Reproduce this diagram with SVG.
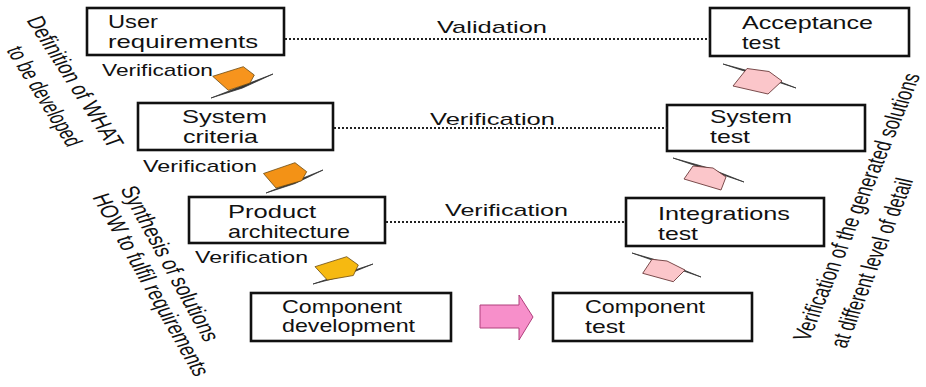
<svg xmlns="http://www.w3.org/2000/svg" width="926" height="387" viewBox="0 0 926 387">
<style>
.box{fill:#fff;stroke:#111;stroke-width:2.6}
.t{font-family:"Liberation Sans",Arial,sans-serif;font-size:19px;fill:#111}
.v{font-family:"Liberation Sans",Arial,sans-serif;font-size:17px;fill:#111}
.r{font-family:"Liberation Sans",Arial,sans-serif;font-size:18.5px;fill:#111}
.dot{stroke:#222;stroke-width:2;stroke-dasharray:2 2;fill:none}
.sliver{fill:#333;stroke:#333;stroke-width:0.8;stroke-linejoin:round}
.ob{stroke:#6b4a10;stroke-width:0.8;stroke-linejoin:round}
.pb{fill:#fbc6ca;stroke:#6b3a3a;stroke-width:0.9;stroke-linejoin:round}
</style>
<rect width="926" height="387" fill="#fff"/>

<g id="user-requirements">
<rect class="box" x="87" y="8" width="197" height="47"/>
<text class="t" x="108" y="28" font-size="17.5" textLength="50" lengthAdjust="spacingAndGlyphs">User</text>
<text class="t" x="108" y="47.5" font-size="17.5" textLength="150" lengthAdjust="spacingAndGlyphs">requirements</text>
</g>
<g id="system-criteria">
<rect class="box" x="138" y="103" width="195" height="47"/>
<text class="t" x="182" y="123" textLength="85" lengthAdjust="spacingAndGlyphs">System</text>
<text class="t" x="183" y="143" textLength="75" lengthAdjust="spacingAndGlyphs">criteria</text>
</g>
<g id="product-architecture">
<rect class="box" x="189" y="197" width="196" height="46"/>
<text class="t" x="228" y="218" textLength="88" lengthAdjust="spacingAndGlyphs">Product</text>
<text class="t" x="228" y="238" textLength="122" lengthAdjust="spacingAndGlyphs">architecture</text>
</g>
<g id="component-development">
<rect class="box" x="251" y="293" width="200" height="48"/>
<text class="t" x="282" y="313" textLength="120" lengthAdjust="spacingAndGlyphs">Component</text>
<text class="t" x="282" y="332" textLength="133" lengthAdjust="spacingAndGlyphs">development</text>
</g>
<g id="component-test">
<rect class="box" x="553" y="293" width="199" height="48"/>
<text class="t" x="585" y="313" textLength="120" lengthAdjust="spacingAndGlyphs">Component</text>
<text class="t" x="585" y="333" textLength="40" lengthAdjust="spacingAndGlyphs">test</text>
</g>
<g id="integrations-test">
<rect class="box" x="626" y="198" width="198" height="48"/>
<text class="t" x="658" y="220" textLength="132" lengthAdjust="spacingAndGlyphs">Integrations</text>
<text class="t" x="658" y="240" textLength="40" lengthAdjust="spacingAndGlyphs">test</text>
</g>
<g id="system-test">
<rect class="box" x="667" y="105" width="198" height="46"/>
<text class="t" x="710" y="123" textLength="82" lengthAdjust="spacingAndGlyphs">System</text>
<text class="t" x="710" y="143" textLength="40" lengthAdjust="spacingAndGlyphs">test</text>
</g>
<g id="acceptance-test">
<rect class="box" x="710" y="8" width="199" height="48"/>
<text class="t" x="742" y="29" font-size="17.5" textLength="131" lengthAdjust="spacingAndGlyphs">Acceptance</text>
<text class="t" x="742" y="48.5" font-size="17.5" textLength="38" lengthAdjust="spacingAndGlyphs">test</text>
</g>

<g id="connectors">
<line class="dot" x1="285" y1="39" x2="710" y2="39"/>
<line class="dot" x1="334" y1="128" x2="667" y2="128"/>
<line class="dot" x1="386" y1="222" x2="626" y2="222"/>
<text class="v" x="437" y="33" textLength="110" lengthAdjust="spacingAndGlyphs">Validation</text>
<text class="v" x="430" y="125" font-size="18" textLength="125" lengthAdjust="spacingAndGlyphs">Verification</text>
<text class="v" x="445" y="216" font-size="18" textLength="123" lengthAdjust="spacingAndGlyphs">Verification</text>

<text class="v" x="102" y="76" textLength="111" lengthAdjust="spacingAndGlyphs">Verification</text>
<text class="v" x="143" y="172" textLength="114" lengthAdjust="spacingAndGlyphs">Verification</text>
<text class="v" x="195" y="263" textLength="113" lengthAdjust="spacingAndGlyphs">Verification</text>

<polygon class="sliver" points="211,98 273,74 242.5,88"/>
<polygon class="ob" fill="#f7941d" points="212.7,76.3 243.3,66.7 254.3,75 250,83 228.3,90.3"/>
<polygon class="sliver" points="266,193 323,170 295,183.5"/>
<polygon class="ob" fill="#f39216" points="263.5,173.5 295,162.7 306.7,171.7 301.7,180.7 276,188"/>
<polygon class="sliver" points="313,284 373,264 343.5,276"/>
<polygon class="ob" fill="#f6b911" points="315,266.7 346.7,256.7 358.3,265 353.3,275.5 327.3,280"/>

<polygon fill="#f78fca" stroke="#b0407c" stroke-width="1" points="480,305 519,305 519,295 533,317 519,340 519,328 480,328"/>

<polygon class="sliver" points="632,253 701,277 666.5,263"/>
<polygon class="pb" points="652,259.3 667,261 685,270 673.3,281.7 642.7,273.3"/>
<polygon class="sliver" points="673,158 744,182 708.5,168"/>
<polygon class="pb" points="693,166 713,168 726,177 721,190 684,179"/>
<polygon class="sliver" points="723,64 796,88 760,74"/>
<polygon class="pb" points="747,68.5 769,71.5 782,81 768,94 733,86"/>
</g>

<g id="side-labels">
<text class="r" transform="translate(26,20) scale(1.35,1) rotate(64.5)" textLength="143" lengthAdjust="spacingAndGlyphs">Definition of WHAT</text>
<text class="r" transform="translate(6,50) scale(1.35,1) rotate(65)" textLength="108" lengthAdjust="spacingAndGlyphs">to be developed</text>
<text class="r" transform="translate(120,189) scale(1.35,1) rotate(67.8)" textLength="166" lengthAdjust="spacingAndGlyphs">Synthesis of solutions</text>
<text class="r" transform="translate(92,197) scale(1.35,1) rotate(67.1)" textLength="196" lengthAdjust="spacingAndGlyphs">HOW to fulfil requirements</text>
<text class="r" transform="translate(809,342) scale(1.35,1) rotate(-72.8)" textLength="279" lengthAdjust="spacingAndGlyphs">Verification of the generated solutions</text>
<text class="r" transform="translate(846,349) scale(1.35,1) rotate(-73.5)" textLength="176" lengthAdjust="spacingAndGlyphs">at different level of detail</text>
</g>
</svg>
